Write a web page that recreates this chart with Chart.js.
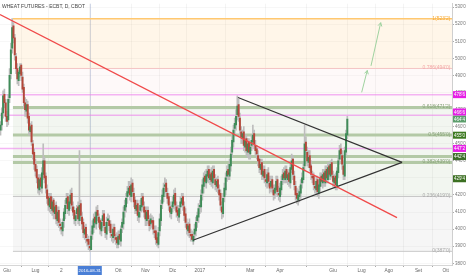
<!DOCTYPE html>
<html>
<head>
<meta charset="utf-8">
<script src="https://cdn.jsdelivr.net/npm/chart.js@4/dist/chart.umd.min.js"></script>
<style>
  html, body { margin: 0; padding: 0; background: #fff; }
  #wrap { width: 466px; height: 275px; position: relative; }
</style>
</head>
<body>
<div id="wrap"><canvas id="chart"></canvas></div>
<script>
// Candles: trading-day index, 0 = 1 Jun 2016
const barStart = -5;
const opens = [
  458,461,468,479,474,466,464,477,491,506,
  519,512,501,494,487,491,496,489,483,474,
  469,473,466,457,461,450,445,438,435,430,
  423,430,424,432,440,431,423,419,413,419,
  411,417,409,414,405,411,403,401,399,405,
  409,415,419,411,415,421,413,411,405,409,
  413,405,415,407,404,397,401,394,394,390,
  388,397,401,407,403,411,407,405,399,405,
  409,401,397,405,405,403,397,395,401,395,
  395,391,397,393,401,403,411,413,419,421,
  425,419,427,421,417,411,415,407,411,413,
  419,413,411,405,411,405,403,405,405,399,
  399,395,391,399,405,415,419,425,427,421,
  419,413,409,413,415,421,413,411,407,413,
  415,419,413,409,403,399,403,397,397,393,
  397,399,405,407,413,413,421,425,431,427,
  431,435,429,433,427,435,429,425,429,423,
  421,413,409,419,423,431,435,431,437,445,
  451,459,461,467,473,465,457,453,457,448,
  453,445,451,444,449,451,456,449,447,443,
  441,435,439,431,435,429,427,433,427,425,
  429,423,421,423,429,421,419,423,429,433,
  429,435,429,433,427,435,441,431,425,421,
  417,419,421,427,429,437,451,445,439,443,
  437,431,431,425,423,429,421,425,431,427,
  433,427,435,429,437,431,439,431,427,431,
  425,433,441,447,443,437,431,445,455
];
const highs = [
  463,471,481,482,476,469,479,494,509,523.25,
  521,514,503,497,493,497,497,492,485,477,
  476,475,468,462,463,452,447,441,437,432,
  432,432,436,450,442,433,426,421,421,421,
  419,418,415,416,413,413,406,404,406,412,
  417,421,421,419,423,424,416,413,410,414,
  416,446,417,410,406,402,403,397,396,393,
  399,405,409,410,413,414,409,406,406,411,
  411,404,407,409,408,405,400,403,403,397,
  398,399,399,402,406,413,417,421,425,428,
  428,430,429,424,419,417,417,413,417,421,
  421,416,413,413,413,408,409,408,407,402,
  402,397,401,409,417,423,427,430,429,424,
  421,416,414,419,423,424,416,414,414,419,
  421,421,416,412,406,404,406,400,399,398,
  403,407,410,415,417,423,429,433,434,435,
  437,437,435,436,437,437,432,430,431,426,
  423,416,421,427,433,437,438,441,448,455,
  461,465,470,478,476,468,460,458,460,455,
  455,453,453,451,455,461,458,452,449,446,
  443,441,441,437,437,433,435,436,431,431,
  431,426,426,431,431,425,427,431,435,436,
  437,437,434,435,439,444,443,434,428,424,
  423,425,429,433,439,461,454,448,446,446,
  440,434,433,428,431,431,429,433,433,435,
  435,437,437,439,439,440,441,434,432,433,
  436,443,449,450,446,440,448,458,466
];
const lows = [
  455,458,465,471,463,460,461,474,488,503,
  509,499,491,485,484,489,487,480,471,466,
  466,462,455,455,449,441,435,431,427,421,
  420,422,421,429,427,421,415,411,410,409,
  408,406,406,403,402,401,399,397,396,401,
  406,412,409,408,412,411,408,403,402,406,
  403,402,405,400,395,394,392,390,388,387,
  388,394,398,401,400,405,401,397,396,401,
  399,395,394,402,399,395,393,392,393,391,
  389,389,391,390,398,400,407,410,415,419,
  417,416,419,413,409,409,405,404,407,410,
  411,407,402,402,403,399,400,401,397,395,
  391,390,389,396,402,412,416,421,419,415,
  411,407,406,410,412,411,407,405,404,409,
  413,411,405,401,397,396,395,393,393,391,
  394,396,401,404,409,410,417,421,425,424,
  428,427,426,425,424,427,423,422,421,417,
  411,406,407,416,420,428,429,429,434,442,
  448,456,458,464,463,455,450,450,446,445,
  443,442,441,441,446,448,447,443,441,437,
  433,432,429,429,427,425,424,425,421,422,
  421,417,418,420,419,417,416,420,426,427,
  427,427,426,425,424,433,429,423,417,415,
  414,416,418,424,427,434,443,437,436,434,
  429,427,423,421,420,419,418,422,425,424,
  425,425,427,427,429,429,430,425,424,423,
  423,430,438,441,435,429,429,443,453
];
const closes = [
  461,468,478,474,466,463,476,490,505,518,
  512,502,494,488,492,495,490,482,474,470,
  473,465,458,460,451,444,438,434,430,424,
  429,425,433,440,430,424,418,414,418,412,
  416,410,413,406,410,404,402,400,404,410,
  414,418,412,416,420,414,410,406,408,412,
  406,414,408,403,398,400,395,393,391,389,
  396,402,406,404,410,408,404,400,404,408,
  402,398,404,406,402,398,396,400,396,394,
  392,396,394,400,404,410,414,418,422,424,
  420,426,422,416,412,414,408,410,414,418,
  414,410,406,410,406,402,406,404,400,398,
  394,392,398,406,414,420,424,426,422,418,
  414,410,412,416,420,414,410,408,412,416,
  418,414,408,404,400,402,398,396,394,396,
  400,404,408,412,414,420,426,430,428,432,
  434,430,432,428,434,430,426,428,424,420,
  414,410,418,424,430,434,432,438,444,452,
  458,462,466,472,466,458,454,456,449,452,
  446,450,445,448,452,455,450,446,444,440,
  436,438,432,434,430,428,432,428,424,428,
  424,420,424,428,422,420,424,428,432,430,
  434,430,432,428,436,440,432,426,420,418,
  420,422,426,430,436,450,446,440,442,436,
  432,430,426,424,428,422,426,430,428,432,
  428,434,430,436,432,438,432,428,430,426,
  434,440,446,444,438,432,446,456,464.5
];

// Axes
const dayMin = -5.4;
const dayMax = 343.9;
const monthTicks = [0, 22, 42, 86, 107, 128, 149, 188, 211, 252, 274, 295, 318, 339];
const monthLabels = ['Giu', 'Lug', '2', 'Ott', 'Nov', 'Dic', '2017', 'Mar', 'Apr', 'Giu', 'Lug', 'Ago', 'Set', 'Ott'];
const priceTicks = [380, 390, 400, 410, 420, 430, 440, 450, 460, 470, 480, 490, 500, 510, 520, 530];
const crossDay = 64;
const crossLabel = '2016-08-31';

// Fibonacci retracement 387'0 -> 523'2
const fibStart = 4.6;
const fibPrices = [387, 419.16, 439.05, 455.13, 471.2, 494.09, 523.25];
const fibTexts = ["0(387'0)", "0.236(419'0)", "0.382(439'0)", "0.5(455'0)", "0.618(471'2)", "0.786(494'0)", "1(523'2)"];

// horizontal levels
const pinkLevels = [478.75, 466.75, 447.25];
const greenLevels = [442.5];

// trend lines [day, price]
const redLine = [[-5.4, 525.7], [301.4, 406.7]];
const triUpper = [[178.5, 477.1], [305.3, 439.1]];
const triLower = [[143.7, 393.5], [305.3, 439.1]];
const arrowA = [[274.1, 480.1], [278.4, 492.9]];
const arrowB = [[281.3, 495.6], [288.8, 520.9]];

// price axis marks
const markPrices = [478.75, 466.75, 464.5, 455, 447.25, 442.5, 429.5];
const markTexts = ["478'6", "466'6", "464'4", "455'0", "447'2", "442'4", "429'4"];

// styles
const fibLineColors = ['#c8c8c8', '#c4c4c4', '#b3c9a6', '#b3c9a6', '#b3c9a6', '#f4c4c4', '#ffc870'];
const fibLineWidths = [1, 1, 3, 3, 3, 1, 1.5];
const fibBandColors = [null, 'rgba(0,0,0,0.035)', 'rgba(110,160,90,0.09)', 'rgba(110,160,90,0.09)', 'rgba(110,160,90,0.09)', 'rgba(240,140,140,0.05)', 'rgba(255,165,40,0.1)'];
const fibTextColors = ['#aaa', '#aaa', '#8aa37c', '#8aa37c', '#8aa37c', '#f2a8a8', '#f6a935'];
const markColors = ['#e51fe5', '#e51fe5', '#5c9e6c', '#3e7a22', '#e51fe5', '#3e6f2c', '#3c7022'];
const FONT = "'Liberation Sans', Arial, sans-serif";

const px = (p) => p.map(([x, y]) => ({ x, y }));

const datasets = [];
fibPrices.forEach((p, i) => {
  datasets.push({
    type: 'line',
    data: [{ x: fibStart, y: p }, { x: dayMax, y: p }],
    borderColor: fibLineColors[i],
    borderWidth: fibLineWidths[i],
    backgroundColor: fibBandColors[i] || 'transparent',
    fill: i === 0 ? false : '-1',
    pointRadius: 0,
    order: 20
  });
});
pinkLevels.forEach(p => {
  datasets.push({
    type: 'line', data: [{ x: dayMin, y: p }, { x: dayMax, y: p }],
    borderColor: 'rgba(235,120,235,0.55)', borderWidth: 1.5, pointRadius: 0, fill: false, order: 15
  });
});
greenLevels.forEach(p => {
  datasets.push({
    type: 'line', data: [{ x: fibStart, y: p }, { x: dayMax, y: p }],
    borderColor: '#b3c9a6', borderWidth: 3, pointRadius: 0, fill: false, order: 15
  });
});

const wickData = highs.map((h, i) => ({ x: barStart + i, y: [lows[i], h] }));
const bodyData = opens.map((o, i) => ({ x: barStart + i, y: [o, closes[i]] }));
const bodyColors = opens.map((o, i) => closes[i] >= o ? '#3f8c58' : '#b4473a');

datasets.push({
  type: 'bar', data: wickData, backgroundColor: '#bdbdbd', barThickness: 1, grouped: false, order: 6
});
datasets.push({
  type: 'bar', data: bodyData, backgroundColor: bodyColors, barThickness: 1.3, minBarLength: 1, grouped: false, order: 5
});

[[redLine, '#f04a4a', 1.3], [triUpper, '#333', 1.2], [triLower, '#333', 1.2],
 [arrowA, '#9fd29f', 1], [arrowB, '#9fd29f', 1]].forEach(([pts, c, w]) => {
  datasets.push({
    type: 'line', data: px(pts), borderColor: c, borderWidth: w, pointRadius: 0, fill: false, order: 1
  });
});

const overlay = {
  id: 'overlay',
  beforeDatasetsDraw(chart) {
    const { ctx, chartArea: a, scales: { x } } = chart;
    const cx = Math.round(x.getPixelForValue(crossDay)) + 0.5;
    ctx.save();
    ctx.strokeStyle = 'rgba(120,140,185,0.35)';
    ctx.lineWidth = 1;
    ctx.beginPath(); ctx.moveTo(cx, a.top); ctx.lineTo(cx, a.bottom); ctx.stroke();
    ctx.restore();
  },
  afterDraw(chart) {
    const { ctx, chartArea: a, scales: { x, y } } = chart;
    ctx.save();
    // fib labels
    ctx.font = '5px ' + FONT;
    ctx.textAlign = 'right';
    ctx.textBaseline = 'middle';
    fibPrices.forEach((p, i) => {
      ctx.fillStyle = fibTextColors[i];
      ctx.fillText(fibTexts[i], a.right - 1.5, y.getPixelForValue(p) - 0.5);
    });
    // arrow heads
    ctx.strokeStyle = '#9fd29f';
    ctx.lineWidth = 1;
    [arrowA, arrowB].forEach(pts => {
      const x0 = x.getPixelForValue(pts[0][0]), y0 = y.getPixelForValue(pts[0][1]);
      const x1 = x.getPixelForValue(pts[1][0]), y1 = y.getPixelForValue(pts[1][1]);
      const ang = Math.atan2(y1 - y0, x1 - x0);
      ctx.beginPath();
      ctx.moveTo(x1 - 4 * Math.cos(ang - 0.5), y1 - 4 * Math.sin(ang - 0.5));
      ctx.lineTo(x1, y1);
      ctx.lineTo(x1 - 4 * Math.cos(ang + 0.5), y1 - 4 * Math.sin(ang + 0.5));
      ctx.stroke();
    });
    // price axis boxes
    const h = 7;
    const boxes = markPrices.map((p, i) => ({ y: y.getPixelForValue(p), t: markTexts[i], c: markColors[i] }))
      .sort((m, n) => n.y - m.y);
    for (let i = 1; i < boxes.length; i++) {
      if (boxes[i].y > boxes[i - 1].y - h) boxes[i].y = boxes[i - 1].y - h;
    }
    ctx.font = '4.6px ' + FONT;
    ctx.textAlign = 'center';
    boxes.forEach(b => {
      ctx.fillStyle = b.c;
      ctx.fillRect(a.right + 1, b.y - h / 2, chart.width - a.right - 1, h);
      ctx.fillStyle = '#fff';
      ctx.fillText(b.t, a.right + 1 + (chart.width - a.right - 1) / 2, b.y + 0.3);
    });
    // date box
    const cx = x.getPixelForValue(crossDay);
    ctx.fillStyle = '#4a7fd6';
    ctx.fillRect(cx - 12, a.bottom + 1, 24, 9);
    ctx.fillStyle = '#fff';
    ctx.font = '4.4px ' + FONT;
    ctx.fillText(crossLabel, cx, a.bottom + 5.6);
    // title
    ctx.fillStyle = '#444';
    ctx.textAlign = 'left';
    ctx.font = '5px ' + FONT;
    ctx.fillText('WHEAT FUTURES - ECBT, D, CBOT', 2, 7);
    ctx.restore();
  }
};

new Chart(document.getElementById('chart'), {
  type: 'bar',
  data: { datasets },
  options: {
    responsive: true,
    maintainAspectRatio: false,
    animation: false,
    devicePixelRatio: 1,
    events: [],
    layout: { padding: 0 },
    plugins: { legend: { display: false }, tooltip: { enabled: false } },
    scales: {
      x: {
        type: 'linear',
        min: dayMin,
        max: dayMax,
        offset: false,
        afterBuildTicks: (s) => { s.ticks = monthTicks.map(v => ({ value: v })); },
        afterFit: (s) => { s.height = 10; },
        ticks: {
          autoSkip: false, maxRotation: 0, padding: 1,
          color: '#666', font: { size: 4.8, family: FONT },
          callback: (v, i) => monthLabels[i]
        },
        grid: { color: 'rgba(0,0,0,0.045)', tickLength: 2, tickColor: '#aaa' },
        border: { color: '#d6d6d6' }
      },
      y: {
        type: 'linear',
        position: 'right',
        min: 379,
        max: 532,
        afterBuildTicks: (s) => { s.ticks = priceTicks.map(v => ({ value: v })); },
        afterFit: (s) => { s.width = 14; },
        ticks: {
          padding: 1, color: '#777', font: { size: 4.5, family: FONT },
          callback: (v) => v + "'0"
        },
        grid: { color: 'rgba(0,0,0,0.03)', tickLength: 2, tickColor: '#aaa' },
        border: { color: '#cfcfcf' }
      }
    }
  },
  plugins: [overlay]
});
</script>
</body>
</html>
